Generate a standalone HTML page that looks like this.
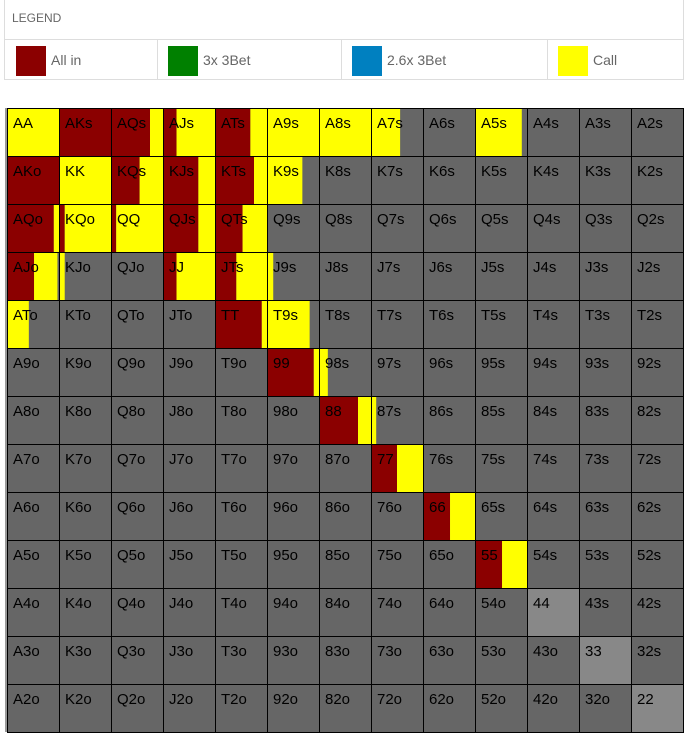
<!DOCTYPE html>
<html><head><meta charset="utf-8"><style>
body{margin:0;background:#fff;width:689px;height:738px;overflow:hidden;font-family:"Liberation Sans",sans-serif}
#legend{position:absolute;left:4px;top:0;width:678px;height:79px;border:1px solid #ddd;border-top:none}
#lt{position:absolute;left:7px;top:11px;font-size:12px;color:#666}
#lrow{position:absolute;left:0;top:39px;width:678px;height:40px;border-top:1px solid #ddd}
.it{position:absolute;top:0;height:40px;border-right:1px solid #ddd}
.sw{position:absolute;top:6px;left:11px;width:30px;height:30px}
.lb{position:absolute;top:12px;left:46px;font-size:14px;color:#666}
</style></head><body>
<div id="legend">
<div id="lt">LEGEND</div>
<div id="lrow">
<div class="it" style="left:0;width:152px"><div class="sw" style="background:#8b0000"></div><div class="lb">All in</div></div>
<div class="it" style="left:152px;width:184px"><div class="sw" style="background:#008000"></div><div class="lb">3x 3Bet</div></div>
<div class="it" style="left:336px;width:206px"><div class="sw" style="background:#0080c0"></div><div class="lb">2.6x 3Bet</div></div>
<div class="it" style="left:542px;width:136px;border-right:none"><div class="sw" style="background:#ffff00"></div><div class="lb">Call</div></div>
</div></div>
<svg id="grid" width="689" height="738" style="position:absolute;left:0;top:0"></svg>
<script>
const ranks=["A","K","Q","J","T","9","8","7","6","5","4","3","2"];
const allinRows=[
[0,1,.75,.26,.68,0,0,0,0,0,0,0,0],
[1,0,.55,.68,.75,0,0,0,0,0,0,0,0],
[.9,.11,.1,.68,.53,0,0,0,0,0,0,0,0],
[.52,0,0,.26,.41,0,0,0,0,0,0,0,0],
[0,0,0,0,.9,0,0,0,0,0,0,0,0],
[0,0,0,0,0,.9,0,0,0,0,0,0,0],
[0,0,0,0,0,0,.75,0,0,0,0,0,0],
[0,0,0,0,0,0,0,.5,0,0,0,0,0],
[0,0,0,0,0,0,0,0,.52,0,0,0,0],
[0,0,0,0,0,0,0,0,0,.52,0,0,0],
[0,0,0,0,0,0,0,0,0,0,0,0,0],
[0,0,0,0,0,0,0,0,0,0,0,0,0],
[0,0,0,0,0,0,0,0,0,0,0,0,0]];
const callRows=[
[1,0,.25,.74,.32,1,1,.56,0,.9,0,0,0],
[0,1,.45,.32,.25,.68,0,0,0,0,0,0,0],
[.1,.89,.9,.32,.47,0,0,0,0,0,0,0,0],
[.45,.11,0,.74,.59,.12,0,0,0,0,0,0,0],
[.42,0,0,0,.1,.82,0,0,0,0,0,0,0],
[0,0,0,0,0,.1,.17,0,0,0,0,0,0],
[0,0,0,0,0,0,.25,.1,0,0,0,0,0],
[0,0,0,0,0,0,0,.5,0,0,0,0,0],
[0,0,0,0,0,0,0,0,.48,0,0,0,0],
[0,0,0,0,0,0,0,0,0,.48,0,0,0],
[0,0,0,0,0,0,0,0,0,0,0,0,0],
[0,0,0,0,0,0,0,0,0,0,0,0,0],
[0,0,0,0,0,0,0,0,0,0,0,0,0]];
const NS="http://www.w3.org/2000/svg";
const svg=document.getElementById("grid");
const X0=7,Y0=108,CW=52,CH=48;
const xs=c=>X0+c*CW, ys=r=>Y0+r*CH;
function mk(t,a){const e=document.createElementNS(NS,t);for(const k in a)e.setAttribute(k,a[k]);svg.appendChild(e);return e;}
svg.appendChild(document.createComment("cells"));
mk("rect",{x:5,y:Y0,width:2,height:13*CH,fill:"#999"});
for(let r=0;r<13;r++)for(let c=0;c<13;c++){
  const x=xs(c),y=ys(r);
  const lbl=r===c?ranks[r]+ranks[c]:(c>r?ranks[r]+ranks[c]+"s":ranks[c]+ranks[r]+"o");
  const bg=mk("rect",{x:x,y:y,width:CW,height:CH,fill:r===c?"#888":"#666"});
  
  
  const a=allinRows[r][c],k=callRows[r][c];
  if(a>0){const e=mk("rect",{x:x,y:y,width:a*CW,height:CH,fill:"#8b0000"});
    
    }
  if(k>0){const e=mk("rect",{x:x+a*CW,y:y,width:k*CW,height:CH,fill:"#ffff00"});
    
    }
  mk("rect",{x:x+.5,y:y+.5,width:CW,height:CH,fill:"none",stroke:"#000","stroke-width":1});
  const t=mk("text",{x:x+6,y:y+20,"font-size":"15","font-family":"Liberation Sans, sans-serif",fill:"#000"});
  t.textContent=lbl;
  
  
}
mk("rect",{x:X0+.5,y:Y0+.5,width:13*CW,height:13*CH,fill:"none",stroke:"#000","stroke-width":1});
</script>
</body></html>
